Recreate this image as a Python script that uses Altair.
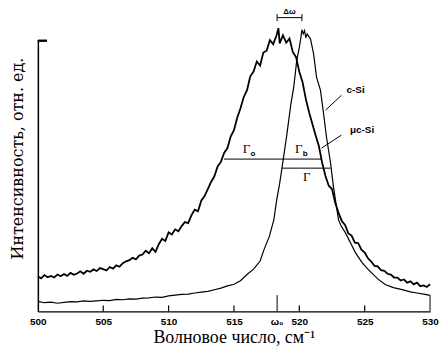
import altair as alt
import pandas as pd

# --- data ---
mc_wn = [500.0, 500.25, 500.5, 500.75, 501.0, 501.25, 501.5, 501.75, 502.0, 502.25, 502.5, 502.75,
         503.0, 503.25, 503.5, 503.75, 504.0, 504.25, 504.5, 504.75, 505.0, 505.25, 505.5, 505.75,
         506.0, 506.25, 506.5, 506.75, 507.0, 507.25, 507.5, 507.75, 508.0, 508.25, 508.5, 508.75,
         509.0, 509.25, 509.5, 509.75, 510.0, 510.25, 510.5, 510.75, 511.0, 511.25, 511.5, 511.75,
         512.0, 512.25, 512.5, 512.75, 513.0, 513.25, 513.5, 513.75, 514.0, 514.25, 514.5, 514.75,
         515.0, 515.25, 515.5, 515.75, 516.0, 516.25, 516.5, 516.75, 517.0, 517.25, 517.5, 517.75,
         518.0, 518.25, 518.4, 518.5, 518.75, 519.0, 519.25, 519.5, 519.75, 520.0, 520.25, 520.5,
         520.75, 521.0, 521.25, 521.5, 521.75, 522.0, 522.25, 522.5, 522.75, 523.0, 523.25, 523.5,
         523.75, 524.0, 524.25, 524.5, 524.75, 525.0, 525.25, 525.5, 525.75, 526.0, 526.25, 526.5,
         526.75, 527.0, 527.25, 527.5, 527.75, 528.0, 528.25, 528.5, 528.75, 529.0, 529.25, 529.5,
         529.75, 530.0]
mc_val = [12.9, 12.2, 13.4, 12.6, 13.1, 12.5, 13.6, 13.0, 13.8, 13.1, 14.2, 13.5,
          14.0, 14.8, 13.9, 15.0, 14.6, 15.5, 14.9, 16.0, 15.6, 15.1, 16.4, 15.8,
          17.0, 16.5, 17.8, 18.5, 18.9, 19.8, 19.2, 20.6, 21.0, 22.4, 21.5, 23.3,
          22.0, 24.8, 26.8, 26.0, 29.2, 28.4, 30.3, 29.6, 31.5, 33.0, 32.6, 35.5,
          37.6, 37.0, 40.9, 42.6, 45.2, 47.8, 49.9, 53.5, 55.2, 58.5, 60.3, 64.6,
          66.9, 71.5, 75.0, 79.2, 81.7, 86.8, 88.6, 92.3, 90.8, 95.6, 96.3, 100.2,
          98.7, 101.8, 104.6, 99.0, 102.0, 99.2, 100.8, 95.8, 93.9, 88.5, 84.6, 78.4,
          73.5, 69.2, 65.0, 61.0, 54.8, 50.0, 46.4, 45.2, 40.0, 36.4, 33.4, 31.9,
          28.8, 28.0, 25.4, 25.2, 22.8, 21.7, 19.6, 18.4, 16.8, 16.6, 15.2, 15.0,
          13.9, 13.6, 12.5, 12.5, 11.4, 11.8, 10.6, 11.1, 10.0, 10.6, 9.3, 9.6,
          9.0, 10.0]

c_wn = [500.0, 500.5, 501.0, 501.5, 502.0, 502.5, 503.0, 503.5, 504.0, 504.5, 505.0, 505.5,
        506.0, 506.5, 507.0, 507.5, 508.0, 508.5, 509.0, 509.5, 510.0, 510.5, 511.0, 511.5,
        512.0, 512.5, 513.0, 513.5, 514.0, 514.5, 515.0, 515.5, 516.0, 516.5, 517.0, 517.3,
        517.7, 518.05, 518.27, 518.5, 518.73, 519.04, 519.34, 519.57, 519.8, 520.0, 520.1, 520.2,
        520.3, 520.4, 520.5, 520.6, 520.75, 520.86, 521.09, 521.32, 521.62, 521.85, 522.08, 522.39,
        522.61, 523.0, 523.2, 523.53, 524.0, 524.29, 524.8, 525.28, 526.0, 526.57, 527.2, 527.79,
        528.5, 529.0, 529.62, 530.0]
c_val = [3.7, 3.2, 3.4, 3.0, 3.3, 3.6, 3.5, 3.9, 3.7, 3.9, 4.1, 4.0,
         4.4, 4.3, 4.6, 4.5, 4.9, 5.0, 5.3, 5.2, 5.7, 6.0, 6.3, 6.4,
         6.8, 7.1, 7.4, 8.0, 8.6, 9.4, 10.0, 11.3, 13.6, 15.6, 18.6, 22.8,
         27.6, 33.8, 41.2, 47.4, 54.8, 65.1, 76.1, 82.7, 92.6, 97.5, 100.5, 104.0,
         102.5, 103.7, 101.0, 102.5, 101.4, 100.5, 95.2, 86.4, 81.6, 73.2, 64.3, 54.8,
         46.0, 33.8, 31.5, 29.0, 24.5, 21.7, 18.0, 15.4, 12.0, 9.9, 8.8, 8.1,
         7.2, 6.8, 6.3, 5.9]

x_ticks = [500, 505, 510, 515, 520, 525, 530]
omega0 = 518.3
c_peak = 520.2

# annotation segments (wn, val, wn2, val2)
seg_wn = [514.24, 518.66, omega0, omega0, c_peak, omega0, 523.22, 523.22, 530.0]
seg_val = [56.25, 52.9, 108.5, 107.2, 107.2, 0.0, 79.8, 65.1, 0.0]
seg_wn2 = [521.7, 522.39, c_peak, omega0, c_peak, omega0, 522.0, 521.7, 530.0]
seg_val2 = [56.25, 52.9, 108.5, 109.8, 109.8, 6.0, 74.3, 60.3, 5.9]

# serif labels (Greek letters)
g_text = ["Γ", "Γ", "Γ"]
g_wn = [515.95, 519.95, 520.56]
g_val = [59.8, 59.8, 49.6]
# small labels: subscripts "o", "b" and Δω
sub_text = ["o", "b", "Δω"]
sub_wn = [516.45, 520.45, 519.25]
sub_val = [58.3, 58.3, 110.6]
# sans labels
s_text = ["c-Si", "μc-Si", "ω₀"]
s_wn = [524.3, 524.8, omega0]
s_val = [81.6, 66.9, -4.1]

mc = pd.DataFrame({"wn": mc_wn, "val": mc_val})
cs = pd.DataFrame({"wn": c_wn, "val": c_val})
seg = pd.DataFrame({"wn": seg_wn, "val": seg_val, "wn2": seg_wn2, "val2": seg_val2})
glabs = pd.DataFrame({"wn": g_wn, "val": g_val, "t": g_text})
sublabs = pd.DataFrame({"wn": sub_wn, "val": sub_val, "t": sub_text})
slabs = pd.DataFrame({"wn": s_wn, "val": s_val, "t": s_text})
ticks = pd.DataFrame({"wn": x_ticks[1:-1]})

X = alt.X("wn:Q",
          scale=alt.Scale(domain=[500, 530], nice=False, zero=False),
          axis=alt.Axis(values=x_ticks, ticks=False, grid=False, labelFlush=False,
                        labelFont="Liberation Sans", labelFontWeight="bold", labelFontSize=10,
                        labelColor="black", labelPadding=5, format="d",
                        domainColor="black", domainWidth=1.5,
                        title="Волновое число, см⁻¹", titleFont="Liberation Serif",
                        titleFontSize=18, titleFontWeight="normal", titleColor="black",
                        titlePadding=2))
Y = alt.Y("val:Q",
          scale=alt.Scale(domain=[0, 100], nice=False, zero=False),
          axis=alt.Axis(labels=False, ticks=False, grid=False, domainColor="black",
                        domainWidth=1.5,
                        title="Интенсивность, отн. ед.", titleFont="DejaVu Serif",
                        titleFontSize=16, titleFontWeight="normal", titleColor="black",
                        titleX=-12, titleY=118))

mc_line = alt.Chart(mc).mark_line(color="black", strokeWidth=1.8).encode(x=X, y=Y)
c_line = alt.Chart(cs).mark_line(color="black", strokeWidth=1.2).encode(x=X, y=Y)

segs = alt.Chart(seg).mark_rule(color="black", strokeWidth=1).encode(
    x=X, y=Y, x2="wn2:Q", y2="val2:Q")

tick_marks = alt.Chart(ticks).mark_rule(color="black", strokeWidth=1.2).encode(
    x=X, y=alt.value(272), y2=alt.value(266))

top_stub = alt.Chart(ticks).mark_rule(color="black", strokeWidth=1.5).encode(
    x=alt.value(0), x2=alt.value(9), y=alt.value(0))

gtexts = alt.Chart(glabs).mark_text(font="Liberation Serif", fontSize=13,
                                    color="black", align="center", baseline="middle").encode(
    x=X, y=Y, text="t:N")
subtexts = alt.Chart(sublabs).mark_text(font="Liberation Sans", fontWeight="bold", fontSize=8,
                                        color="black", align="center", baseline="middle").encode(
    x=X, y=Y, text="t:N")
stexts = alt.Chart(slabs).mark_text(font="Liberation Sans", fontWeight="bold", fontSize=10,
                                    color="black", align="center", baseline="middle").encode(
    x=X, y=Y, text="t:N")

chart = alt.layer(mc_line, c_line, segs, tick_marks, top_stub, gtexts, subtexts, stexts).properties(
    width=394, height=272,
    autosize=alt.AutoSizeParams(type="none"),
    padding={"left": 30, "top": 32, "right": 10, "bottom": 35},
    background="white",
).configure_view(stroke=None)

chart.save("out.html", embed_options={"renderer": "svg", "actions": False})
